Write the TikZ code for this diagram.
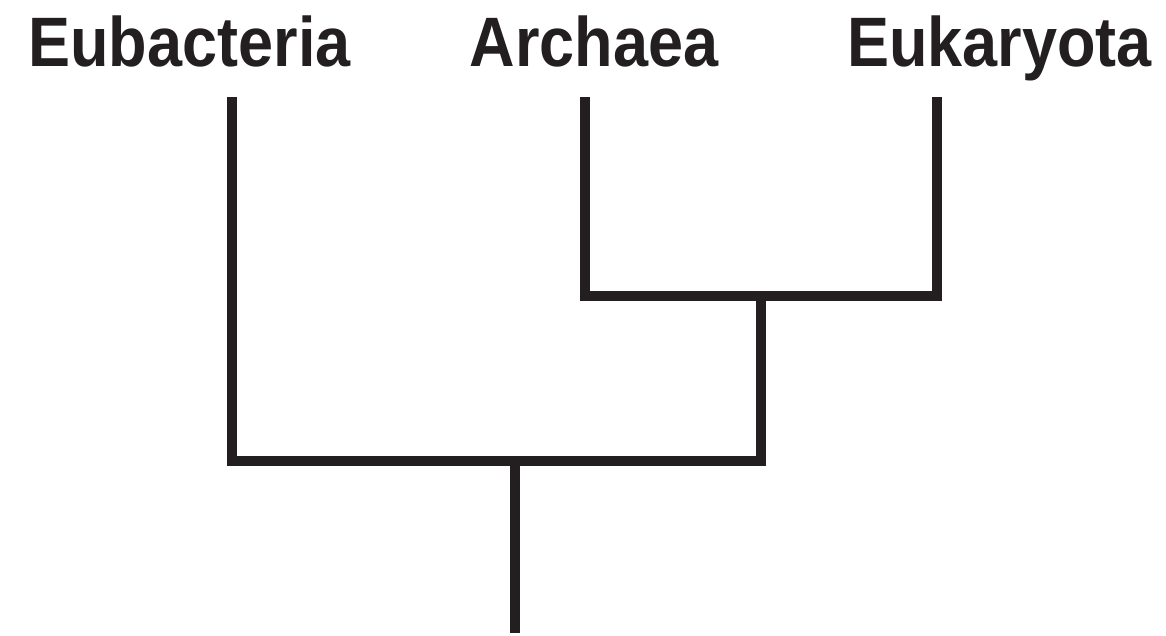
\documentclass[tikz,border=0pt]{standalone}
\usepackage{fontspec}
\newfontfamily\labelfont{Liberation Sans}[FakeStretch=0.9]
\definecolor{ink}{HTML}{231F20}
\begin{document}
\begin{tikzpicture}[x=1pt,y=-1pt,
  taxon/.style={anchor=base,inner sep=0pt,text=ink,
    font=\labelfont\bfseries\fontsize{70}{84}\selectfont},
  branch/.style={draw=ink,line width=10.5pt,line cap=butt,line join=miter}]
  \useasboundingbox (0,0) rectangle (1166,635);

  % taxon labels
  \node[taxon] (eub) at (189.5,66) {Eubacteria};
  \node[taxon] (arc) at (594,66) {Archaea};
  \node[taxon] (euk) at (999.5,66) {Eukaryota};

  % branch tips, junctions and root
  \coordinate (eubtip) at (232,97);
  \coordinate (arctip) at (585,97);
  \coordinate (euktip) at (937,97);
  \coordinate (inner) at (761,296);
  \coordinate (outer) at (515,461);
  \coordinate (root) at (515,633);

  % Archaea + Eukaryota clade
  \draw[branch] (arctip) |- (inner) -| (euktip);
  % Eubacteria joined to that clade
  \draw[branch] (eubtip) |- (outer) -| (inner);
  % root stem
  \draw[branch] (outer) -- (root);
\end{tikzpicture}
\end{document}
